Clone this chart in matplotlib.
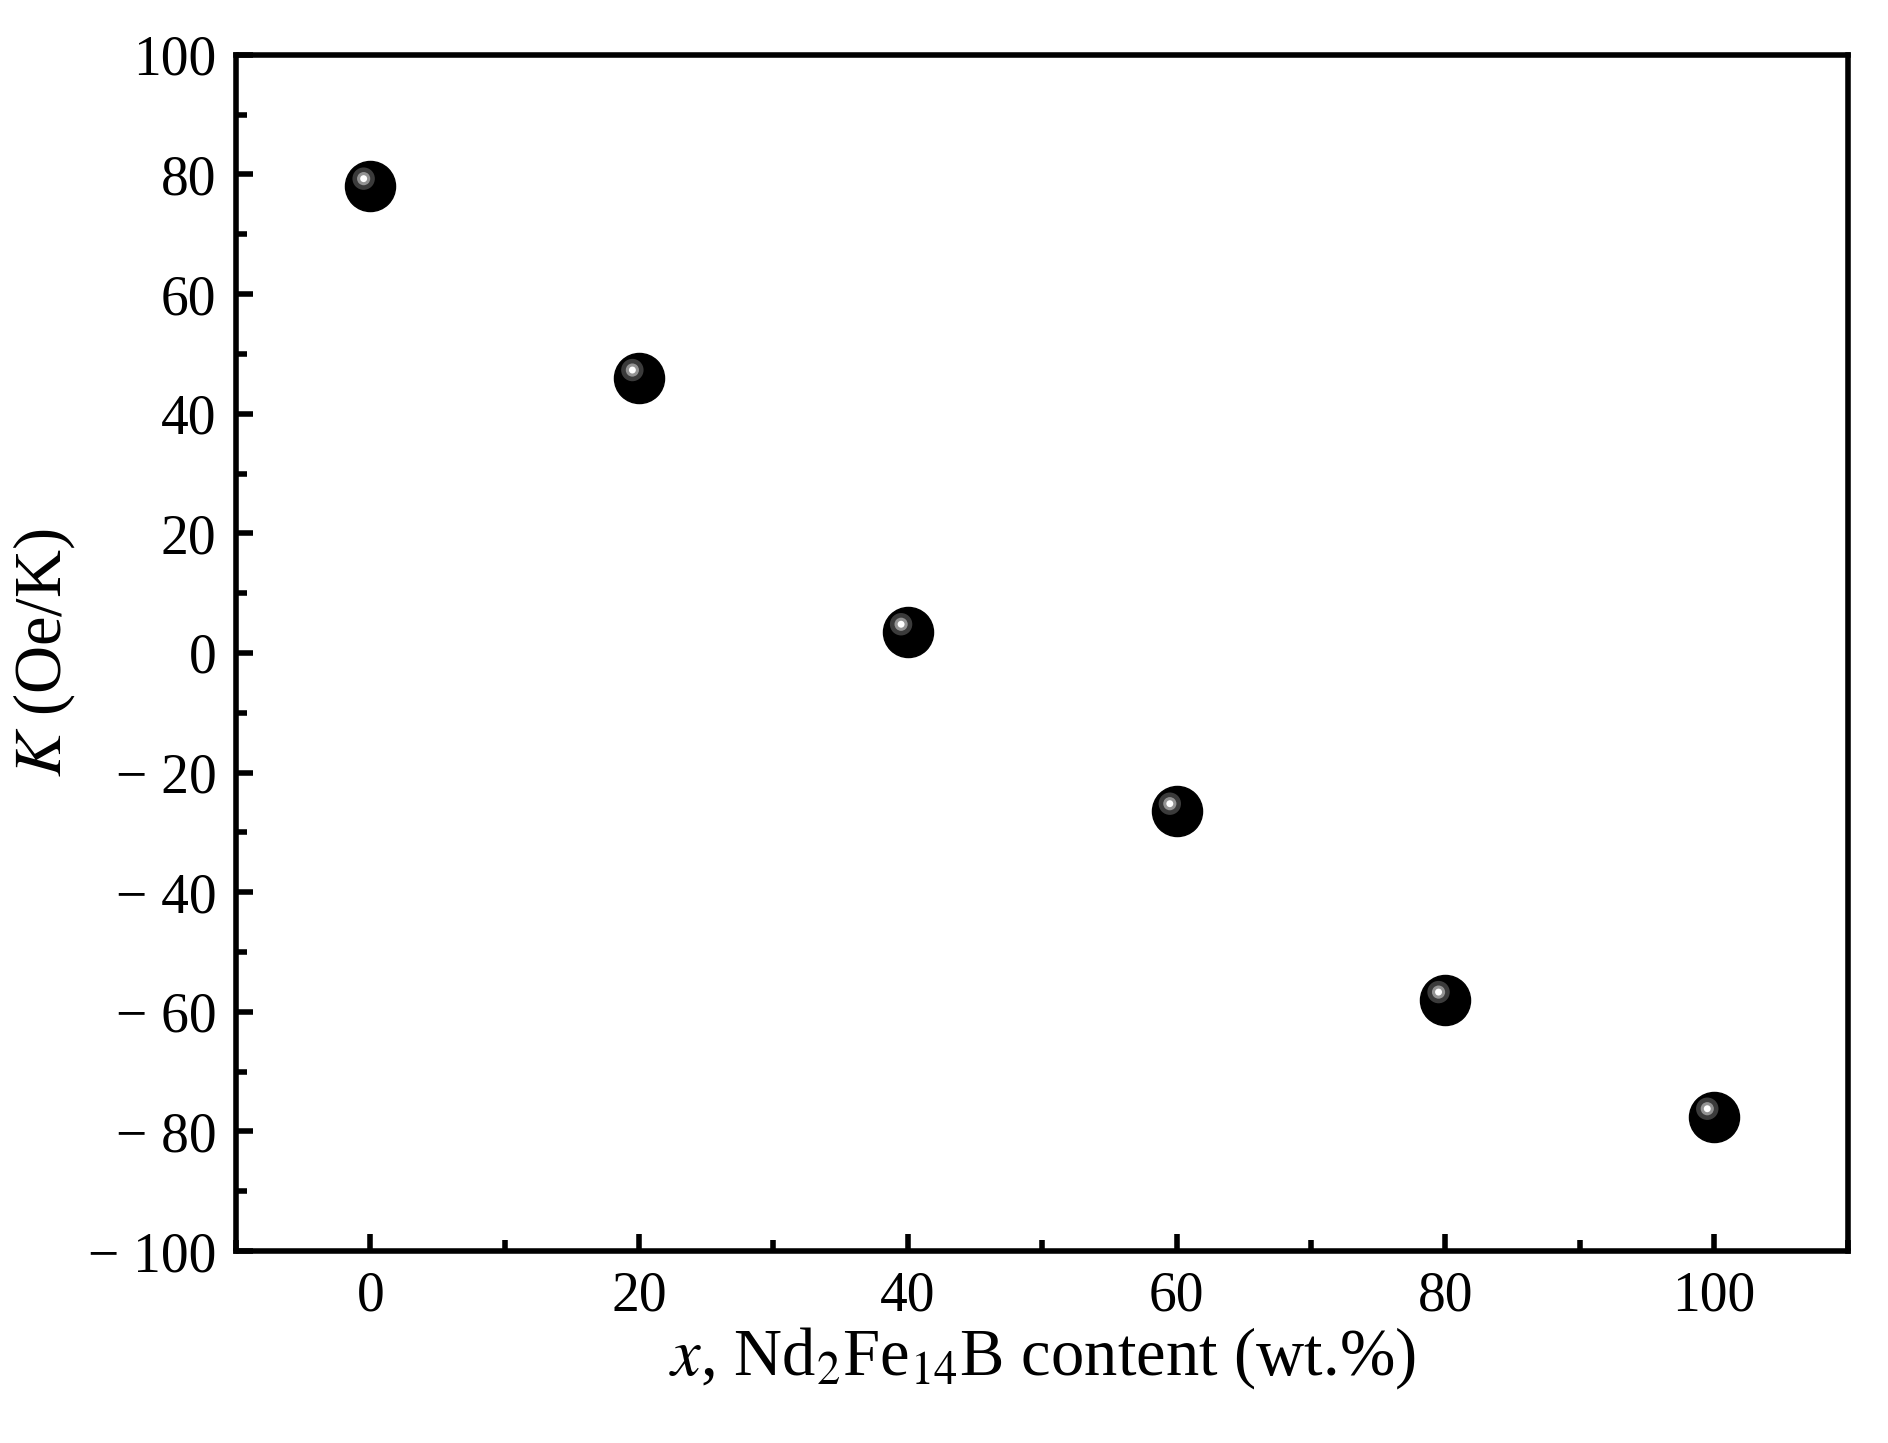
import matplotlib
matplotlib.use("Agg")
import matplotlib.pyplot as plt
from matplotlib.ticker import MultipleLocator, FuncFormatter

x_vals = [0, 20, 40, 60, 80, 100]
k_vals = [78, 46, 3.5, -26.5, -58, -77.5]

plt.rcParams['font.family'] = ['Liberation Serif', 'DejaVu Serif']
plt.rcParams['mathtext.fontset'] = 'stix'

fig = plt.figure(figsize=(18.88, 14.43), dpi=100)
ax = fig.add_axes([0.125, 0.133, 0.854, 0.829])

ax.scatter(x_vals, k_vals, s=1300, c='black', zorder=3)
ax.scatter([v - 0.5 for v in x_vals], [v + 1.3 for v in k_vals], s=260, c='#555555', zorder=4, edgecolors='none', alpha=0.7)
ax.scatter([v - 0.5 for v in x_vals], [v + 1.3 for v in k_vals], s=90, c='#aaaaaa', zorder=5, edgecolors='none', alpha=0.8)
ax.scatter([v - 0.5 for v in x_vals], [v + 1.3 for v in k_vals], s=25, c='white', zorder=6, edgecolors='none')

ax.set_xlim(-10, 110)
ax.set_ylim(-100, 100)
ax.xaxis.set_major_locator(MultipleLocator(20))
ax.xaxis.set_minor_locator(MultipleLocator(10))
ax.yaxis.set_major_locator(MultipleLocator(20))
ax.yaxis.set_minor_locator(MultipleLocator(10))
ax.yaxis.set_major_formatter(FuncFormatter(lambda v, p: ('\u2212 %d' % -v) if v < 0 else '%d' % v))

for s in ax.spines.values():
    s.set_linewidth(4)
ax.tick_params(which='both', direction='in', width=4, labelsize=40, pad=14)
ax.tick_params(which='major', length=12)
ax.tick_params(which='minor', length=8)

ax.set_xlabel(r'$x$, Nd$_2$Fe$_{14}$B content (wt.%)', fontsize=48, labelpad=2)
ax.set_ylabel(r'$K$ (Oe/K)', fontsize=48, labelpad=8)

fig.savefig('out.png', dpi=100)
